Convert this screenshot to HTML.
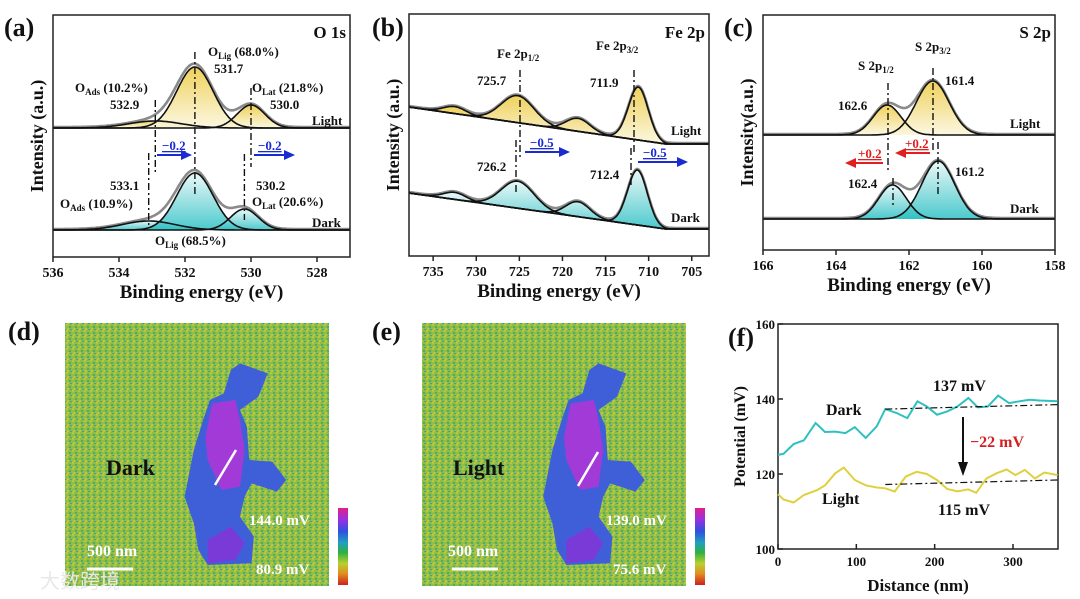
<!DOCTYPE html>
<html><head><meta charset="utf-8">
<style>
html,body{margin:0;padding:0;background:#fff;}
svg{display:block;font-family:"Liberation Serif","Noto Serif CJK SC",serif;font-weight:bold;}
</style></head>
<body>
<svg id="fig" width="1080" height="599" viewBox="0 0 1080 599" xmlns="http://www.w3.org/2000/svg">
<defs>
<linearGradient id="gy" x1="0" y1="0" x2="0" y2="1"><stop offset="0" stop-color="#ecc93f"/><stop offset="1" stop-color="#fbf6dc"/></linearGradient>
<linearGradient id="gc" x1="0" y1="0" x2="0" y2="1"><stop offset="0" stop-color="#e6f7f7"/><stop offset="1" stop-color="#2cc0c4"/></linearGradient>
<linearGradient id="cbar" x1="0" y1="0" x2="0" y2="1">
<stop offset="0" stop-color="#e0208c"/><stop offset="0.15" stop-color="#9a30e0"/><stop offset="0.3" stop-color="#3050e0"/><stop offset="0.45" stop-color="#20a0c0"/><stop offset="0.58" stop-color="#30b040"/><stop offset="0.72" stop-color="#b8d030"/><stop offset="0.85" stop-color="#e09020"/><stop offset="1" stop-color="#d02020"/></linearGradient>
<pattern id="speck" width="6" height="6" patternUnits="userSpaceOnUse">
<rect width="6" height="6" fill="#8fbd48"/>
<rect x="0" y="0" width="2" height="2" fill="#b5c83c"/>
<rect x="3" y="2" width="2" height="2" fill="#4fae5a"/>
<rect x="1" y="4" width="2" height="2" fill="#c2c43a"/>
<rect x="4" y="5" width="2" height="1" fill="#3ea2a0"/>
</pattern>
</defs>
<g id="panels"></g>
</svg>
<script>
// ---------- data: panel (a) O 1s ----------
const aTicks = [536, 534, 532, 530, 528];
const aLightCenters = [532.9, 531.7, 530.0];
const aLightAmps = [7, 61, 23];
const aLightSig = [0.8, 0.55, 0.42];
const aDarkCenters = [533.1, 531.7, 530.2];
const aDarkAmps = [9, 57, 21];
const aDarkSig = [0.8, 0.55, 0.42];
// ---------- data: panel (b) Fe 2p ----------
const bTicks = [735, 730, 725, 720, 715, 710, 705];
const bLightCenters = [732.5, 725.2, 718.2, 711.2];
const bLightAmps = [7, 27, 13, 53];
const bLightSig = [1.3, 1.9, 1.4, 1.15];
const bDarkCenters = [732.5, 725.2, 718.2, 711.3];
const bDarkAmps = [7, 27, 15, 55];
const bDarkSig = [1.3, 1.9, 1.4, 1.15];
// ---------- data: panel (c) S 2p ----------
const cTicks = [166, 164, 162, 160, 158];
const cLightCenters = [162.6, 161.35];
const cLightAmps = [30, 54];
const cLightSig = [0.38, 0.45];
const cDarkCenters = [162.45, 161.2];
const cDarkAmps = [34, 58];
const cDarkSig = [0.38, 0.45];
// ---------- data: panel (f) potential profiles ----------
const fXTicks = [0, 100, 200, 300];
const fYTicks = [100, 120, 140, 160];
const darkDist = [0,7,20,33,48,60,73,86,98,112,126,137,151,165,178,190,203,216,229,243,255,268,281,295,308,321,334,357];
const darkPot = [125.1,125.4,128,129,133.6,131.2,131.3,130.9,132.5,129.6,132.7,137.3,136.3,134.9,139.4,138,135.8,136.7,138,140.3,137.8,138,140.9,138.9,139.4,139.8,139.6,139.4];
const lightDist = [0,7,20,33,50,60,73,84,98,112,126,137,149,163,177,190,203,216,229,243,253,266,279,292,303,315,328,340,357];
const lightPot = [114.6,113.2,112.4,114.4,115.7,117,120.2,121.7,118.4,117,116.4,116.2,115.3,119.3,120.6,120,118.4,116,115.4,115.9,115,118.8,120.2,121.2,119.7,121.1,118.8,120.4,119.7];
const fitDist = [137, 357];
const darkFit = [137.3, 138.5];
const lightFit = [117.2, 118.4];

const NS = "http://www.w3.org/2000/svg";
const root = document.getElementById('panels');
function mk(tag, attrs, parent, text) {
  const e = document.createElementNS(NS, tag);
  for (const k in attrs) e.setAttribute(k, attrs[k]);
  if (text !== undefined) e.textContent = text;
  (parent || root).appendChild(e);
  return e;
}
function txt(x, y, s, size, parent, anchor, fill) {
  const t = mk('text', {x: x, y: y, 'font-size': size, fill: fill || '#111', 'text-anchor': anchor || 'start'}, parent);
  t.innerHTML = s;
  return t;
}
function gauss(e, c, a, s) { return a * Math.exp(-0.5 * ((e - c) / s) * ((e - c) / s)); }

function xpsPanel(o) {
  const g = mk('g', {});
  
  
  const X = e => o.x0 + (o.e0 - e) * (o.x1 - o.x0) / (o.e0 - o.e1);
  const N = 240;
  function drawSet(centers, amps, sigs, bg, fill, setName) {
    const sg = mk('g', {}, g);
    
    
    const es = [];
    for (let i = 0; i <= N; i++) es.push(o.e0 - (o.e0 - o.e1) * i / N);
    centers.forEach((c, k) => {
      let d = '';
      es.forEach((e, i) => { d += (i ? 'L' : 'M') + X(e).toFixed(1) + ',' + (bg(e) - gauss(e, c, amps[k], sigs[k])).toFixed(1); });
      let dfill = d;
      for (let i = N; i >= 0; i--) dfill += 'L' + X(es[i]).toFixed(1) + ',' + bg(es[i]).toFixed(1);
      const f = mk('path', {d: dfill + 'Z', fill: fill, 'fill-opacity': 0.85}, sg);
      
      
    });
    let de = '';
    es.forEach((e, i) => {
      let s = 0; centers.forEach((c, k) => s += gauss(e, c, amps[k], sigs[k]));
      de += (i ? 'L' : 'M') + X(e).toFixed(1) + ',' + (bg(e) - s - 1).toFixed(1);
    });
    const env = mk('path', {d: de, fill: 'none', stroke: '#8a8a8a', 'stroke-width': 2.6}, sg);
    
    
    centers.forEach((c, k) => {
      let d = '';
      es.forEach((e, i) => { const v = gauss(e, c, amps[k], sigs[k]); d += (i ? 'L' : 'M') + X(e).toFixed(1) + ',' + (bg(e) - v).toFixed(1); });
      const p = mk('path', {d: d, fill: 'none', stroke: '#111', 'stroke-width': 1.6}, sg);
      
      
    });
  }
  drawSet(o.lc, o.la, o.ls, o.lbg, 'url(#gy)', 'light-spectrum');
  drawSet(o.dc, o.da, o.ds, o.dbg, 'url(#gc)', 'dark-spectrum');
  const fr = mk('rect', {x: o.x0, y: o.y0, width: o.x1 - o.x0, height: o.y1 - o.y0, fill: 'none', stroke: '#222', 'stroke-width': 1.5}, g);
  
  
  o.ticks.forEach(t => {
    const tx = X(t);
    const tk = mk('line', {x1: tx, x2: tx, y1: o.y1, y2: o.y1 + 5, stroke: '#222', 'stroke-width': 1.5}, g);
    
    
    const tl = txt(tx, o.y1 + 20, String(t), 14, g, 'middle');
    
    
  });
  const xt = txt((o.x0 + o.x1) / 2, o.y1 + 41, 'Binding energy (eV)', 19, g, 'middle');
  
  
  const yt = txt(0, 0, o.ylab, 18, g, 'middle');
  yt.setAttribute('transform', 'translate(' + (o.x0 - 10) + ',' + ((o.y0 + o.y1) / 2) + ') rotate(-90)');
  
  
  const pl = txt(o.lx, 36, o.letter, 26, g);
  
  
  const ti = txt(o.x1 - 4, 38, o.title, 17, g, 'end');
  
  
  return {g: g, X: X};
}
function dashV(g, x, y1, y2) {
  const l = mk('line', {x1: x, x2: x, y1: y1, y2: y2, stroke: '#111', 'stroke-width': 1.4, 'stroke-dasharray': '7,3,2,3'}, g);
  
  
}
function arrow(g, x1, x2, y, col, label, lx) {
  const dir = x2 > x1 ? 1 : -1;
  const l = mk('line', {x1: x1, x2: x2 - dir * 9, y1: y, y2: y, stroke: col, 'stroke-width': 2}, g);
  
  
  const h = mk('polygon', {points: x2 + ',' + y + ' ' + (x2 - dir * 11) + ',' + (y - 5) + ' ' + (x2 - dir * 11) + ',' + (y + 5), fill: col}, g);
  
  
  const t = mk('text', {x: lx, y: y - 5, 'font-size': 13, fill: col, 'text-decoration': 'underline'}, g, label);
  
  
}
function label(g, x, y, s, size, name) {
  const t = txt(x, y, s, size || 13, g);
  
  
}
const sub = s => '<tspan font-size="9" dy="3">' + s + '</tspan><tspan dy="-3"> </tspan>';

const pa = xpsPanel({name: 'panel-a-o1s', x0: 53, x1: 350, y0: 15, y1: 257, e0: 536, e1: 527.0, ticks: aTicks,
  lc: aLightCenters, la: aLightAmps, ls: aLightSig, lbg: e => 128,
  dc: aDarkCenters, da: aDarkAmps, ds: aDarkSig, dbg: e => 230,
  ylab: 'Intensity (a.u.)', letter: '(a)', lx: 4, title: 'O 1s'});
[[531.7, 52, 197], [532.9, 100, 172], [533.1, 153, 227], [530.0, 88, 167], [530.2, 154, 220]].forEach(d => dashV(pa.g, pa.X(d[0]), d[1], d[2]));
arrow(pa.g, 157, 192, 155, '#1a2bd0', '−0.2', 162);
arrow(pa.g, 254, 295, 155, '#1a2bd0', '−0.2', 258);
label(pa.g, 208, 56, 'O' + sub('Lig') + '(68.0%)');
label(pa.g, 214, 73, '531.7');
label(pa.g, 75, 92, 'O' + sub('Ads') + '(10.2%)');
label(pa.g, 110, 109, '532.9');
label(pa.g, 252, 92, 'O' + sub('Lat') + '(21.8%)');
label(pa.g, 270, 109, '530.0');
label(pa.g, 312, 125, 'Light');
label(pa.g, 110, 190, '533.1');
label(pa.g, 60, 208, 'O' + sub('Ads') + '(10.9%)');
label(pa.g, 256, 190, '530.2');
label(pa.g, 252, 206, 'O' + sub('Lat') + '(20.6%)');
label(pa.g, 312, 227, 'Dark');
label(pa.g, 155, 245, 'O' + sub('Lig') + '(68.5%)');

function bgLin(yL, yR) { return e => e >= 708 ? yL + (yR - yL) * (737.8 - e) / (737.8 - 708) : yR; }
const pb = xpsPanel({name: 'panel-b-fe2p', x0: 409, x1: 709, y0: 14, y1: 256, e0: 737.8, e1: 703.0, ticks: bTicks,
  lc: bLightCenters, la: bLightAmps, ls: bLightSig, lbg: bgLin(107, 144),
  dc: bDarkCenters, da: bDarkAmps, ds: bDarkSig, dbg: bgLin(193, 229),
  ylab: 'Intensity (a.u.)', letter: '(b)', lx: 372, title: 'Fe 2p'});
[[520, 70, 158], [516, 140, 193], [634, 70, 153], [631, 148, 185]].forEach(d => dashV(pb.g, d[0], d[1], d[2]));
arrow(pb.g, 525, 570, 152, '#1a2bd0', '−0.5', 530);
arrow(pb.g, 638, 688, 162, '#1a2bd0', '−0.5', 643);
label(pb.g, 497, 58, 'Fe 2p' + sub('1/2'));
label(pb.g, 477, 85, '725.7');
label(pb.g, 596, 50, 'Fe 2p' + sub('3/2'));
label(pb.g, 590, 87, '711.9');
label(pb.g, 671, 135, 'Light');
label(pb.g, 477, 171, '726.2');
label(pb.g, 590, 179, '712.4');
label(pb.g, 671, 222, 'Dark');

const pc = xpsPanel({name: 'panel-c-s2p', x0: 763, x1: 1055, y0: 15, y1: 250, e0: 166, e1: 158, ticks: cTicks,
  lc: cLightCenters, la: cLightAmps, ls: cLightSig, lbg: e => 135,
  dc: cDarkCenters, da: cDarkAmps, ds: cDarkSig, dbg: e => 219,
  ylab: 'Intensity(a.u.)', letter: '(c)', lx: 724, title: 'S 2p'});
[[888, 83, 170], [933, 68, 150], [938, 142, 197], [893, 178, 205]].forEach(d => dashV(pc.g, d[0], d[1], d[2]));
arrow(pc.g, 930, 895, 153, '#e02020', '+0.2', 905);
arrow(pc.g, 883, 845, 163, '#e02020', '+0.2', 858);
label(pc.g, 915, 51, 'S 2p' + sub('3/2'));
label(pc.g, 858, 70, 'S 2p' + sub('1/2'));
label(pc.g, 945, 85, '161.4');
label(pc.g, 838, 110, '162.6');
label(pc.g, 1010, 128, 'Light');
label(pc.g, 955, 176, '161.2');
label(pc.g, 848, 188, '162.4');
label(pc.g, 1010, 213, 'Dark');

function mapPanel(name, x0, letter, lx, word, wx, vmax, vmin, blobShift, line, scalebar) {
  const g = mk('g', {});
  
  
  const bgR = mk('rect', {x: x0, y: 323, width: 264, height: 263, fill: 'url(#speck)'}, g);
  
  
  const bg = mk('g', {transform: 'translate(' + (blobShift * 0.4615).toFixed(1) + ',310) scale(0.4615,0.3333)'}, g);
  const b1 = mk('polygon', {points: '520,160 580,190 560,260 520,300 535,350 540,450 590,455 620,510 600,545 545,520 530,560 520,620 550,680 545,760 450,765 430,720 420,640 400,560 420,420 440,330 455,270 485,250 500,180', fill: '#3f5fd8'}, bg);
  
  
  const b2 = mk('polygon', {points: '460,280 510,270 520,330 530,420 520,530 480,540 450,450 445,380', fill: '#a23ad8'}, bg);
  
  
  const b3 = mk('polygon', {points: '450,690 500,650 530,700 510,750 450,760', fill: '#7a3ad8'}, bg);
  
  
  const ln = mk('line', {x1: line[0], y1: line[1], x2: line[2], y2: line[3], stroke: '#fff', 'stroke-width': 2.5}, g);
  
  
  const cb = mk('rect', {x: x0 + 273, y: 508, width: 10, height: 77, fill: 'url(#cbar)'}, g);
  
  
  label(g, lx, 340, letter, 26, 'panel-label');
  label(g, wx, 475, word, 22, 'map-condition-label');
  const t1 = txt(x0 + 184, 525, vmax, 15, g, 'start', '#fff');
  
  
  const t2 = txt(x0 + 191, 574, vmin, 15, g, 'start', '#fff');
  
  
  const t3 = txt(scalebar[0], 556, '500 nm', 16, g, 'start', '#fff');
  
  
  const sb = mk('line', {x1: scalebar[1], x2: scalebar[1] + 46, y1: 569, y2: 569, stroke: '#fff', 'stroke-width': 3}, g);
  
  
}
mapPanel('panel-d-kpfm-dark', 65, '(d)', 8, 'Dark', 106, '144.0 mV', '80.9 mV', 0, [236, 450, 215, 485], [87, 87]);
mapPanel('panel-e-kpfm-light', 422, '(e)', 372, 'Light', 453, '139.0 mV', '75.6 mV', 777, [598, 452, 578, 486], [448, 452]);
const wm = txt(40, 588, '大数跨境', 20, root, 'start', '#e8e8e8');
wm.setAttribute('font-family', '"Noto Sans CJK SC", sans-serif');
wm.setAttribute('font-weight', 'normal');



(function () {
  const g = mk('g', {});
  
  
  const x0 = 778, x1 = 1058, y0 = 324, y1 = 549;
  const X = d => x0 + d * (1013 - 778) / 300;
  const Y = v => y1 - (v - 100) * (y1 - y0) / 60;
  const fr = mk('rect', {x: x0, y: y0, width: x1 - x0, height: y1 - y0, fill: 'none', stroke: '#222', 'stroke-width': 1.5}, g);
  
  
  fXTicks.forEach(t => {
    const tk = mk('line', {x1: X(t), x2: X(t), y1: y1, y2: y1 - 5, stroke: '#222', 'stroke-width': 1.5}, g);
    
    
    const tl = txt(X(t), y1 + 17, String(t), 13, g, 'middle');
    
    
  });
  fYTicks.forEach(t => {
    const tk = mk('line', {x1: x0, x2: x0 + 5, y1: Y(t), y2: Y(t), stroke: '#222', 'stroke-width': 1.5}, g);
    
    
    const tl = txt(x0 - 3, Y(t) + 5, String(t), 13, g, 'end');
    
    
  });
  const xt = txt((x0 + x1) / 2, 591, 'Distance (nm)', 17, g, 'middle');
  
  
  const yt = txt(0, 0, 'Potential (mV)', 16, g, 'middle');
  yt.setAttribute('transform', 'translate(745,' + ((y0 + y1) / 2) + ') rotate(-90)');
  
  
  label(g, 728, 346, '(f)', 26, 'panel-label');
  const pts = (xs, ys) => xs.map((d, i) => X(Math.min(d, 357)).toFixed(1) + ',' + Y(ys[i]).toFixed(1)).join(' ');
  const dl = mk('polyline', {points: pts(darkDist, darkPot), fill: 'none', stroke: '#2fc0c0', 'stroke-width': 2}, g);
  
  
  const ll = mk('polyline', {points: pts(lightDist, lightPot), fill: 'none', stroke: '#e0d040', 'stroke-width': 2}, g);
  
  
  const df = mk('line', {x1: X(fitDist[0]), x2: X(fitDist[1]), y1: Y(darkFit[0]), y2: Y(darkFit[1]), stroke: '#111', 'stroke-width': 1.2, 'stroke-dasharray': '7,3,2,3'}, g);
  
  
  const lf = mk('line', {x1: X(fitDist[0]), x2: X(fitDist[1]), y1: Y(lightFit[0]), y2: Y(lightFit[1]), stroke: '#111', 'stroke-width': 1.2, 'stroke-dasharray': '7,3,2,3'}, g);
  
  
  label(g, 933, 391, '137 mV', 16, 'dark-average-label');
  label(g, 938, 515, '115 mV', 16, 'light-average-label');
  label(g, 826, 415, 'Dark', 16, 'dark-series-label');
  label(g, 822, 504, 'Light', 16, 'light-series-label');
  const ar = mk('line', {x1: 963, x2: 963, y1: 417, y2: 465, stroke: '#111', 'stroke-width': 2}, g);
  
  
  const ah = mk('polygon', {points: '963,476 958,462 968,462', fill: '#111'}, g);
  
  
  const dt = txt(970, 447, '−22 mV', 16, g, 'start', '#d42020');
  
  
})();
</script>
</body></html>
